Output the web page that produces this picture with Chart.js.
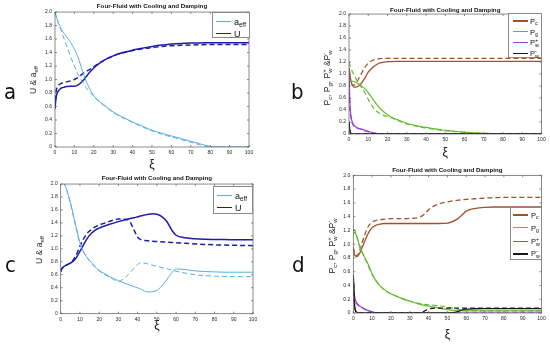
<!DOCTYPE html>
<html>
<head>
<meta charset="utf-8">
<script src="https://cdn.jsdelivr.net/npm/chart.js@4.4.1/dist/chart.umd.min.js"></script>
<style>
  html, body { margin: 0; padding: 0; background: #fff; }
  body { width: 550px; height: 346px; position: relative; overflow: hidden;
         font-family: 'Liberation Sans', Arial, sans-serif; color: #262626; }
  canvas { position: absolute; z-index: 0; }
  .ylab { position: absolute; z-index: 1; white-space: nowrap; font-size: 8.5px;
          transform: translate(-50%, -50%) rotate(-90deg); }
  .tag { position: absolute; z-index: 1; font-family: 'Liberation Sans Narrow', 'DejaVu Sans Condensed', sans-serif;
         font-size: 22px; line-height: 22px; color: #111; }
  .leg { position: absolute; z-index: 2; background: #fff; border: 0.7px solid #8a8a8a; box-sizing: border-box; }
  .leg .ln { position: absolute; }
  .leg .tx { position: absolute; white-space: nowrap; transform: translateY(-50%); color: #111; }
  sub { font-size: 70%; line-height: 0; vertical-align: -0.35em; }
  .ss { display: inline-block; font-size: 70%; line-height: 1; vertical-align: -0.35em; }
</style>
</head>
<body>

<div class="tag" style="left:4px;top:81px">a</div>
<div class="tag" style="left:291px;top:81px">b</div>
<div class="tag" style="left:5px;top:254px">c</div>
<div class="tag" style="left:292px;top:254px">d</div>

<div class="ylab" style="left:33px;top:80px">U &amp; a<sub>eff</sub></div>
<div class="ylab" style="left:328px;top:78px">P<sub>c</sub>, P<sub>g</sub>, P<span class="ss">+<br>w</span> &amp;P<span class="ss">-<br>w</span></div>
<div class="ylab" style="left:39px;top:250px">U &amp; a<sub>eff</sub></div>
<div class="ylab" style="left:333px;top:246px">P<sub>c</sub>, P<sub>g</sub>, P<span class="ss">+<br>w</span> &amp;P<span class="ss">-<br>w</span></div>

<script>
// ── datos ────────────────────────────────────────────
const TITLE = 'Four-Fluid with Cooling and Damping';

const xi = [0, 0.5, 1, 2, 3, 4, 5, 6, 8, 10, 12, 14, 16, 18, 20, 22, 25, 30, 35, 38,
            40, 42, 45, 48, 50, 52, 55, 58, 60, 65, 70, 75, 80, 85, 90, 95, 100];

// panel a
const aEffSolidA = [2.0, 1.95, 1.9, 1.82, 1.76, 1.71, 1.67, 1.63, 1.55, 1.45, 1.32, 1.14, 0.98, 0.86, 0.76, 0.7, 0.63, 0.52, 0.44, 0.4,
                    0.37, 0.345, 0.31, 0.27, 0.25, 0.23, 0.205, 0.18, 0.165, 0.125, 0.085, 0.045, 0.01, 0, 0, 0, 0];
const aEffDashA  = [2.0, 1.95, 1.9, 1.82, 1.74, 1.66, 1.58, 1.5, 1.34, 1.2, 1.07, 0.97, 0.88, 0.81, 0.75, 0.69, 0.62, 0.51, 0.43, 0.39,
                    0.36, 0.335, 0.3, 0.26, 0.24, 0.22, 0.19, 0.165, 0.15, 0.11, 0.07, 0.03, 0, 0, 0, 0, 0];
const uSolidA    = [0.57, 0.72, 0.79, 0.84, 0.87, 0.88, 0.89, 0.895, 0.9, 0.9, 0.92, 0.97, 1.04, 1.11, 1.17, 1.22, 1.28, 1.35, 1.4, 1.42,
                    1.435, 1.45, 1.465, 1.48, 1.49, 1.5, 1.51, 1.52, 1.525, 1.535, 1.54, 1.542, 1.545, 1.545, 1.545, 1.545, 1.545];
const uDashA     = [0.57, 0.8, 0.88, 0.92, 0.94, 0.95, 0.96, 0.965, 0.98, 1.0, 1.03, 1.08, 1.12, 1.15, 1.19, 1.23, 1.28, 1.35, 1.395, 1.415,
                    1.43, 1.44, 1.455, 1.465, 1.472, 1.48, 1.49, 1.497, 1.5, 1.507, 1.512, 1.516, 1.518, 1.52, 1.52, 1.52, 1.52];

// panel b
const pcSolidB  = [1.1, 0.98, 0.88, 0.8, 0.78, 0.785, 0.8, 0.83, 0.92, 1.03, 1.1, 1.15, 1.185, 1.2, 1.205, 1.208, 1.21, 1.21, 1.21, 1.21,
                   1.21, 1.21, 1.21, 1.21, 1.21, 1.21, 1.21, 1.21, 1.21, 1.21, 1.21, 1.21, 1.21, 1.21, 1.21, 1.21, 1.21];
const pcDashB   = [1.1, 0.97, 0.87, 0.81, 0.82, 0.86, 0.92, 0.98, 1.1, 1.18, 1.225, 1.245, 1.255, 1.26, 1.26, 1.26, 1.26, 1.26, 1.26, 1.26,
                   1.26, 1.26, 1.26, 1.26, 1.26, 1.26, 1.26, 1.26, 1.26, 1.26, 1.26, 1.26, 1.26, 1.26, 1.26, 1.26, 1.26];
const pgSolidB  = [0.85, 0.87, 0.885, 0.88, 0.87, 0.85, 0.83, 0.81, 0.76, 0.69, 0.6, 0.51, 0.43, 0.37, 0.32, 0.28, 0.24, 0.18, 0.14, 0.12,
                   0.11, 0.1, 0.085, 0.07, 0.06, 0.055, 0.045, 0.035, 0.03, 0.02, 0.012, 0.006, 0.003, 0.001, 0, 0, 0];
const pgDashB   = [1.2, 1.15, 1.1, 1.02, 0.96, 0.9, 0.85, 0.8, 0.7, 0.58, 0.47, 0.39, 0.34, 0.31, 0.29, 0.27, 0.23, 0.17, 0.13, 0.11,
                   0.1, 0.09, 0.075, 0.062, 0.055, 0.05, 0.04, 0.03, 0.026, 0.017, 0.01, 0.005, 0.002, 0, 0, 0, 0];
const pwPlusSolidB = [1.0, 0.5, 0.3, 0.18, 0.13, 0.11, 0.095, 0.085, 0.065, 0.045, 0.025, 0.012, 0.005, 0.002, 0, 0, 0, 0, 0, 0,
                      0, 0, 0, 0, 0, 0, 0, 0, 0, 0, 0, 0, 0, 0, 0, 0, 0];
const pwPlusDashB  = [1.0, 0.45, 0.27, 0.16, 0.12, 0.1, 0.09, 0.08, 0.06, 0.04, 0.022, 0.01, 0.004, 0.001, 0, 0, 0, 0, 0, 0,
                      0, 0, 0, 0, 0, 0, 0, 0, 0, 0, 0, 0, 0, 0, 0, 0, 0];
const pwMinusB     = [0.2, 0.05, 0.01, 0, 0, 0, 0, 0, 0, 0, 0, 0, 0, 0, 0, 0, 0, 0, 0, 0,
                      0, 0, 0, 0, 0, 0, 0, 0, 0, 0, 0, 0, 0, 0, 0, 0, 0];

// panel c
const aEffSolidC = [2.15, 2.11, 2.07, 2.0, 1.92, 1.82, 1.72, 1.6, 1.34, 1.1, 0.95, 0.86, 0.79, 0.72, 0.67, 0.63, 0.58, 0.51, 0.45, 0.42,
                    0.4, 0.375, 0.335, 0.34, 0.36, 0.41, 0.52, 0.64, 0.69, 0.68, 0.66, 0.65, 0.645, 0.64, 0.64, 0.64, 0.64];
const aEffDashC  = [2.15, 2.11, 2.07, 2.0, 1.92, 1.82, 1.71, 1.58, 1.32, 1.08, 0.94, 0.85, 0.78, 0.71, 0.66, 0.62, 0.57, 0.5, 0.6, 0.7,
                    0.76, 0.785, 0.77, 0.745, 0.73, 0.715, 0.695, 0.67, 0.655, 0.625, 0.6, 0.588, 0.58, 0.575, 0.572, 0.571, 0.57];
const uSolidC    = [0.65, 0.69, 0.71, 0.735, 0.75, 0.765, 0.78, 0.8, 0.86, 0.96, 1.07, 1.17, 1.24, 1.29, 1.32, 1.345, 1.375, 1.42, 1.46, 1.48,
                    1.495, 1.51, 1.53, 1.54, 1.535, 1.51, 1.43, 1.28, 1.21, 1.17, 1.155, 1.148, 1.145, 1.143, 1.142, 1.141, 1.14];
const uDashC     = [0.65, 0.69, 0.71, 0.735, 0.75, 0.765, 0.785, 0.81, 0.9, 1.04, 1.16, 1.25, 1.3, 1.34, 1.37, 1.39, 1.42, 1.46, 1.45, 1.3,
                    1.18, 1.14, 1.125, 1.117, 1.113, 1.11, 1.105, 1.1, 1.095, 1.085, 1.075, 1.068, 1.062, 1.058, 1.055, 1.052, 1.05];

// panel d
const pcSolidD  = [0.95, 0.86, 0.83, 0.82, 0.85, 0.9, 0.97, 1.04, 1.16, 1.24, 1.275, 1.29, 1.3, 1.3, 1.3, 1.3, 1.3, 1.3, 1.3, 1.3,
                   1.3, 1.3, 1.3, 1.302, 1.305, 1.32, 1.36, 1.43, 1.48, 1.52, 1.535, 1.54, 1.54, 1.54, 1.54, 1.54, 1.54];
const pcDashD   = [0.95, 0.87, 0.84, 0.83, 0.88, 0.96, 1.05, 1.13, 1.26, 1.32, 1.345, 1.355, 1.36, 1.365, 1.37, 1.37, 1.37, 1.375, 1.39, 1.44,
                   1.5, 1.54, 1.58, 1.605, 1.615, 1.625, 1.635, 1.645, 1.65, 1.66, 1.67, 1.675, 1.68, 1.68, 1.68, 1.68, 1.68];
const pgSolidD  = [1.15, 1.17, 1.16, 1.1, 1.0, 0.93, 0.87, 0.81, 0.7, 0.57, 0.47, 0.4, 0.35, 0.31, 0.28, 0.255, 0.22, 0.17, 0.13, 0.11,
                   0.1, 0.09, 0.075, 0.06, 0.05, 0.043, 0.035, 0.032, 0.03, 0.03, 0.03, 0.03, 0.03, 0.03, 0.03, 0.03, 0.03];
const pgDashD   = [1.2, 1.21, 1.19, 1.1, 1.0, 0.92, 0.86, 0.8, 0.68, 0.56, 0.47, 0.4, 0.35, 0.31, 0.28, 0.255, 0.22, 0.175, 0.14, 0.125,
                   0.12, 0.115, 0.105, 0.095, 0.085, 0.075, 0.06, 0.045, 0.04, 0.033, 0.03, 0.03, 0.03, 0.03, 0.03, 0.03, 0.03];
const pwPlusSolidD  = [0.5, 0.28, 0.2, 0.14, 0.11, 0.09, 0.075, 0.06, 0.035, 0.015, 0.006, 0.002, 0, 0, 0, 0, 0, 0, 0, 0,
                       0, 0, 0, 0, 0, 0, 0, 0, 0, 0, 0, 0, 0, 0, 0, 0, 0];
const pwPlusDashD   = [0.5, 0.26, 0.18, 0.13, 0.1, 0.085, 0.07, 0.055, 0.03, 0.012, 0.004, 0.001, 0, 0, 0, 0, 0, 0, 0, 0,
                       0, 0, 0, 0, 0, 0, 0, 0, 0, 0, 0, 0, 0, 0, 0, 0, 0];
const pwMinusSolidD = [0.55, 0.2, 0.05, 0.01, 0, 0, 0, 0, 0, 0, 0, 0, 0, 0, 0, 0, 0, 0, 0, 0,
                       0, 0, 0, 0, 0, 0.003, 0.015, 0.045, 0.055, 0.062, 0.064, 0.065, 0.065, 0.065, 0.065, 0.065, 0.065];
const pwMinusDashD  = [0.55, 0.2, 0.05, 0.01, 0, 0, 0, 0, 0, 0, 0, 0, 0, 0, 0, 0, 0, 0, 0, 0.03,
                       0.06, 0.068, 0.07, 0.07, 0.07, 0.07, 0.07, 0.07, 0.07, 0.07, 0.07, 0.07, 0.07, 0.07, 0.07, 0.07, 0.07];

// colores
const C_AEFF = '#5aaee2', C_U = '#1c1caa';
const C_PC = '#a0522d', C_PG = '#66bb33', C_PWP = '#9b40d0', C_PWM = '#1a1a1a';

// ── helpers ───────────────────────────────────────────
Chart.defaults.font.family = "'Liberation Sans', Arial, sans-serif";
Chart.defaults.color = '#262626';

function line(vals, color, width, dashed) {
  return {
    data: xi.map((x, i) => ({x, y: vals[i]})),
    borderColor: color,
    borderWidth: width,
    borderDash: dashed ? [5, 3] : [],
    pointRadius: 0,
    cubicInterpolationMode: 'monotone',
    fill: false,
  };
}

// caja tipo MATLAB con ticks hacia adentro
const matlabBox = {
  id: 'matlabBox',
  afterDatasetsDraw(chart) {
    const {ctx, chartArea: a, scales: {x, y}} = chart;
    ctx.save();
    ctx.strokeStyle = '#5a5a5a';
    ctx.lineWidth = 0.7;
    ctx.strokeRect(a.left, a.top, a.right - a.left, a.bottom - a.top);
    ctx.beginPath();
    x.ticks.forEach(t => {
      const px = x.getPixelForValue(t.value);
      ctx.moveTo(px, a.bottom); ctx.lineTo(px, a.bottom - 2);
      ctx.moveTo(px, a.top);    ctx.lineTo(px, a.top + 2);
    });
    y.ticks.forEach(t => {
      const py = y.getPixelForValue(t.value);
      ctx.moveTo(a.left, py);  ctx.lineTo(a.left + 2, py);
      ctx.moveTo(a.right, py); ctx.lineTo(a.right - 2, py);
    });
    ctx.stroke();
    ctx.restore();
  },
};

function panel(p) {
  const cv = document.createElement('canvas');
  cv.width = p.w; cv.height = p.h;
  cv.style.left = p.left + 'px';
  cv.style.top = p.top + 'px';
  document.body.insertBefore(cv, document.body.firstChild);
  return new Chart(cv, {
    type: 'line',
    data: {datasets: p.sets},
    options: {
      responsive: false,
      animation: false,
      events: [],
      layout: {padding: {left: 0, top: 0, right: p.padRight, bottom: 0}},
      plugins: {
        legend: {display: false},
        tooltip: {enabled: false},
        title: {display: true, text: TITLE, fullSize: false, color: '#111',
                font: {size: 6.2, weight: 'bold'}, padding: p.titlePad},
      },
      scales: {
        x: {
          type: 'linear', min: 0, max: 100,
          grid: {display: false, drawTicks: false}, border: {display: false},
          ticks: {stepSize: 10, padding: 3, font: {size: 5}, maxRotation: 0, autoSkip: false},
          title: {display: true, text: 'ξ', color: '#111', font: {size: 12}, padding: {top: 0, bottom: p.xiPad}},
          afterFit: s => { s.height = p.xH; },
        },
        y: {
          min: 0, max: 2,
          grid: {display: false, drawTicks: false}, border: {display: false},
          ticks: {stepSize: 0.2, padding: 3, font: {size: 5}, autoSkip: false},
          afterFit: s => { s.width = p.yW; },
        },
      },
    },
    plugins: [matlabBox],
  });
}

function legend(box, rows, fontSize) {
  const d = document.createElement('div');
  d.className = 'leg';
  Object.assign(d.style, {left: box.left + 'px', top: box.top + 'px', width: box.w + 'px', height: box.h + 'px',
                          fontSize: fontSize + 'px'});
  rows.forEach(r => {
    const ln = document.createElement('div');
    ln.className = 'ln';
    Object.assign(ln.style, {left: box.lx0 + 'px', width: (box.lx1 - box.lx0) + 'px',
                             top: (r.y - r.lw / 2) + 'px', height: r.lw + 'px', background: r.color});
    const tx = document.createElement('div');
    tx.className = 'tx';
    tx.style.left = box.tx + 'px';
    tx.style.top = r.y + 'px';
    tx.innerHTML = r.html;
    d.appendChild(ln);
    d.appendChild(tx);
  });
  document.body.appendChild(d);
}

// ── paneles ───────────────────────────────────────────
panel({
  left: 0, top: 0, w: 275, h: 173, yW: 55, xH: 26, padRight: 26,
  titlePad: {top: 2.3, bottom: 2.3}, xiPad: 0.8,
  sets: [
    line(aEffSolidA, C_AEFF, 1, false), line(aEffDashA, C_AEFF, 1, true),
    line(uSolidA, C_U, 1.5, false), line(uDashA, C_U, 1.5, true),
  ],
});

panel({
  left: 275, top: 0, w: 275, h: 160, yW: 74, xH: 26, padRight: 8.5,
  titlePad: {top: 6.3, bottom: 0.3}, xiPad: 0,
  sets: [
    line(pwMinusB, C_PWM, 1.3, false), line(pwMinusB, C_PWM, 1.3, true),
    line(pwPlusSolidB, C_PWP, 1.2, false), line(pwPlusDashB, C_PWP, 1.2, true),
    line(pgSolidB, C_PG, 1.2, false), line(pgDashB, C_PG, 1.2, true),
    line(pcSolidB, C_PC, 1.3, false), line(pcDashB, C_PC, 1.3, true),
  ],
});

panel({
  left: 0, top: 170, w: 275, h: 165, yW: 60.7, xH: 21.3, padRight: 22,
  titlePad: {top: 4.8, bottom: 1.8}, xiPad: 1.8,
  sets: [
    line(aEffSolidC, C_AEFF, 1, false), line(aEffDashC, C_AEFF, 1, true),
    line(uSolidC, C_U, 1.5, false), line(uDashC, C_U, 1.5, true),
  ],
});

panel({
  left: 275, top: 160, w: 275, h: 186, yW: 78.3, xH: 33, padRight: 8.5,
  titlePad: {top: 6.3, bottom: 1.6}, xiPad: 3.8,
  sets: [
    line(pwMinusSolidD, C_PWM, 1.3, false), line(pwMinusDashD, C_PWM, 1.3, true),
    line(pwPlusSolidD, C_PWP, 1.2, false), line(pwPlusDashD, C_PWP, 1.2, true),
    line(pgSolidD, C_PG, 1.2, false), line(pgDashD, C_PG, 1.2, true),
    line(pcSolidD, C_PC, 1.3, false), line(pcDashD, C_PC, 1.3, true),
  ],
});

// ── leyendas ──────────────────────────────────────────
const rowsU = [
  {y: 8.5, lw: 1, color: C_AEFF, html: 'a<sub>eff</sub>'},
  {y: 20.5, lw: 1.5, color: C_U, html: 'U'},
];
const rowsP = ys => [
  {y: ys[0], lw: 1.3, color: C_PC,  html: 'P<sub>c</sub>'},
  {y: ys[1], lw: 1.2, color: C_PG,  html: 'P<sub>g</sub>'},
  {y: ys[2], lw: 1.2, color: C_PWP, html: 'P<span class="ss">+<br>w</span>'},
  {y: ys[3], lw: 1.3, color: C_PWM, html: 'P<span class="ss">-<br>w</span>'},
];

legend({left: 212, top: 12, w: 37.5, h: 26, lx0: 3, lx1: 18, tx: 21}, rowsU, 9);
legend({left: 213, top: 186, w: 40, h: 28, lx0: 2.5, lx1: 17.5, tx: 21}, rowsU, 9);
legend({left: 508, top: 13, w: 34, h: 45, lx0: 4, lx1: 19, tx: 21}, rowsP([7, 17.7, 28.7, 39.5]), 7.5);
legend({left: 510, top: 207, w: 32, h: 53, lx0: 2, lx1: 17, tx: 20}, rowsP([7, 19.7, 33.5, 46]), 7.5);
</script>
</body>
</html>
